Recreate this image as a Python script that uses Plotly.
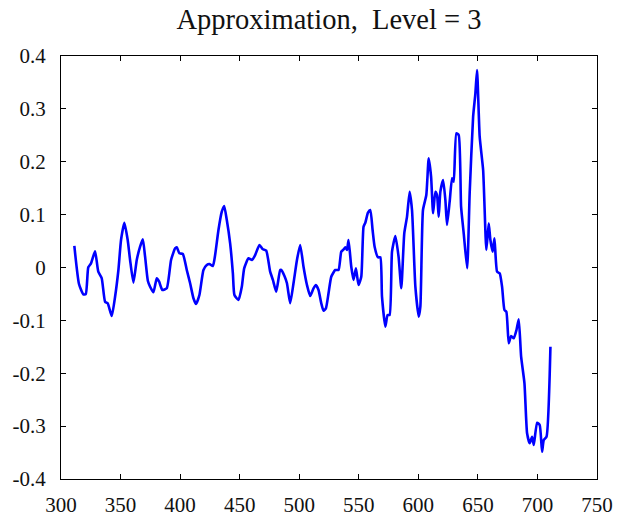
import plotly.graph_objects as go

x_vals = [311.2, 315.1, 318.7, 320.8, 322.9, 325.2, 328.6, 331.3, 334.2, 337.0,
          339.2, 342.6, 345.4, 348.2, 350.4, 353.2, 356.0, 358.0, 360.8, 363.6,
          366.4, 368.7, 370.6, 372.9, 374.8, 377.6, 380.4, 382.4, 385.1, 388.8,
          392.4, 395.8, 397.2, 399.4, 402.3, 405.6, 408.4, 411.2, 413.4, 416.2,
          419.6, 422.4, 424.6, 427.5, 429.4, 432.2, 435.0, 437.0, 439.2, 442.0,
          444.3, 445.6, 449.0, 451.8, 453.8, 457.4, 460.3, 463.0, 466.6, 469.5,
          472.3, 475.6, 477.9, 480.7, 484.0, 484.9, 487.6, 489.7, 492.4, 495.2,
          498.1, 500.8, 503.6, 506.5, 509.2, 512.0, 514.0, 516.2, 518.5, 520.4,
          522.4, 524.6, 526.9, 530.3, 533.0, 535.3, 537.3, 538.7, 540.1, 541.4,
          543.7, 545.6, 547.6, 549.8, 552.1, 554.0, 555.5, 557.7, 559.7, 561.6,
          563.3, 566.1, 568.1, 569.5, 572.3, 574.2, 575.9, 577.9, 580.7, 583.4,
          585.7, 588.2, 590.5, 592.7, 594.7, 597.5, 600.3, 601.7, 603.9, 606.7,
          608.7, 610.7, 612.4, 614.3, 615.7, 617.1, 618.5, 620.8, 622.7, 624.1,
          626.3, 628.3, 629.7, 631.9, 633.9, 635.9, 638.1, 641.0, 643.1, 646.0,
          647.9, 649.3, 651.5, 654.4, 657.1, 659.1, 660.5, 662.4, 663.9, 666.1,
          668.3, 670.3, 672.3, 673.9, 675.9, 677.9, 680.1, 682.4, 684.3, 686.3,
          689.1, 691.3, 693.5, 695.5, 696.9, 699.7, 701.9, 703.9, 705.3, 707.6,
          710.9]

y_vals = [0.0407, -0.0312, -0.0507, -0.0501, 0.0004, 0.0079, 0.0306, -0.0079, -0.0204, -0.0647,
          -0.0677, -0.0917, -0.0552, -0.0047, 0.0520, 0.0847, 0.0520, 0.0142, -0.0287, 0.0142,
          0.0393, 0.0533, 0.0204, -0.0250, -0.0363, -0.0469, -0.0204, -0.0269, -0.0426, -0.0393,
          0.0142, 0.0363, 0.0382, 0.0269, 0.0255, -0.0047, -0.0299, -0.0582, -0.0690, -0.0520,
          -0.0047, 0.0047, 0.0066, 0.0028, 0.0236, 0.0709, 0.1055, 0.1163, 0.0898, 0.0458,
          -0.0110, -0.0520, -0.0615, -0.0363, -0.0015, 0.0174, 0.0142, 0.0236, 0.0426, 0.0344,
          0.0318, -0.0079, -0.0236, -0.0458, -0.0047, -0.0047, -0.0161, -0.0299, -0.0677, -0.0299,
          0.0142, 0.0426, 0.0015, -0.0331, -0.0539, -0.0393, -0.0331, -0.0426, -0.0677, -0.0817,
          -0.0772, -0.0488, -0.0174, -0.0047, -0.0047, 0.0299, 0.0344, 0.0382, 0.0331, 0.0520,
          0.0015, -0.0236, -0.0015, -0.0331, -0.0174, 0.0772, 0.0847, 0.1036, 0.1087, 0.0709,
          0.0393, 0.0193, 0.0193, -0.0552, -0.1120, -0.0898, -0.0898, 0.0299, 0.0596, 0.0204,
          -0.0393, 0.0647, 0.0961, 0.1434, 0.1087, -0.0363, -0.0930, -0.0741, 0.1087, 0.1371,
          0.2065, 0.1717, 0.1025, 0.1434, 0.1371, 0.0961, 0.1434, 0.1655, 0.1277, 0.0804,
          0.1244, 0.1687, 0.1623, 0.2538, 0.2506, 0.1150, 0.0647, -0.0015, 0.1403, 0.2852,
          0.3295, 0.3735, 0.2474, 0.1844, 0.0331, 0.0836, 0.0520, 0.0299, 0.0552, -0.0079,
          -0.0110, -0.0363, -0.0804, -0.0836, -0.1434, -0.1295, -0.1339, -0.1182, -0.0980, -0.1687,
          -0.2190, -0.3136, -0.3325, -0.3200, -0.3357, -0.2935, -0.2979, -0.3484, -0.3262, -0.3200,
          -0.1498]

x_ticks = [300, 350, 400, 450, 500, 550, 600, 650, 700, 750]
x_tick_text = ["300", "350", "400", "450", "500", "550", "600", "650", "700", "750"]
y_ticks = [-0.4, -0.3, -0.2, -0.1, 0, 0.1, 0.2, 0.3, 0.4]
y_tick_text = ["-0.4", "-0.3", "-0.2", "-0.1", "0", "0.1", "0.2", "0.3", "0.4"]

title_text = "Approximation,  Level = 3"

FONT = "Liberation Serif, Times New Roman, serif"

fig = go.Figure()
fig.add_trace(go.Scatter(x=x_vals, y=y_vals, mode="lines",
                         line=dict(color="#0000ff", width=2.6, shape="spline", smoothing=0.5),
                         showlegend=False, hoverinfo="skip"))

axis_common = dict(showline=True, linecolor="black", linewidth=1.2,
                   mirror="ticks", ticks="inside", ticklen=5, tickwidth=1,
                   tickcolor="black", showgrid=False, zeroline=False,
                   automargin=False,
                   tickfont=dict(family=FONT, size=21, color="#111"))

fig.update_xaxes(range=[300, 750], tickvals=x_ticks, ticktext=x_tick_text,
                 ticklabelstandoff=7, **axis_common)
fig.update_yaxes(range=[-0.4, 0.4], tickvals=y_ticks, ticktext=y_tick_text,
                 ticklabelstandoff=10, **axis_common)

fig.update_layout(
    width=619, height=520,
    margin=dict(l=61, r=22, t=56, b=41),
    paper_bgcolor="white", plot_bgcolor="white",
    title=dict(text=title_text, x=0.5, xref="paper", xanchor="center",
               y=1, yref="container", yanchor="top", pad=dict(t=9),
               automargin=False,
               font=dict(family=FONT, size=28.5, color="#111")),
)

fig.write_html("out.html")
